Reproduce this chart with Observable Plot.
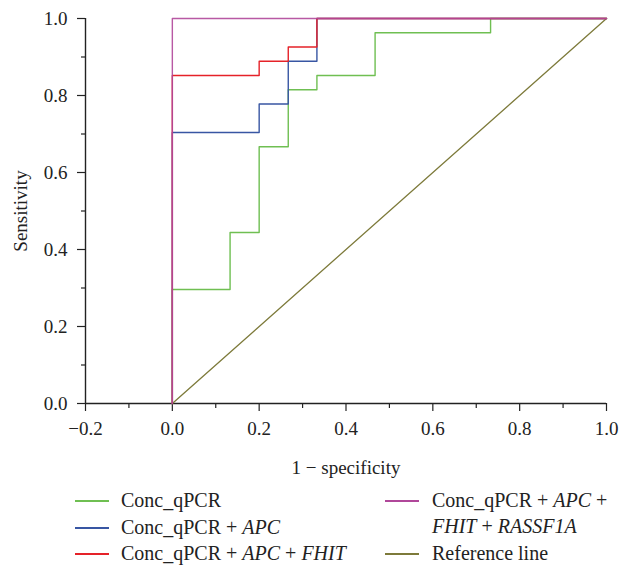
<!DOCTYPE html>
<html>
<head>
<meta charset="utf-8">
<script src="https://cdn.jsdelivr.net/npm/d3@7"></script>
<script src="https://cdn.jsdelivr.net/npm/@observablehq/plot@0.6"></script>
<style>
  html, body { margin: 0; padding: 0; background: #fff; }
  #wrap { position: relative; width: 630px; height: 565px; font-family: "Liberation Serif", "Times New Roman", serif; color: #222; }
  .sw { position: absolute; width: 34px; height: 1.5px; }
  .lt { position: absolute; font-size: 20px; line-height: 20px; white-space: nowrap; }
</style>
</head>
<body>
<div id="wrap"></div>
<script>
// Series names
const seriesNames = ["Conc_qPCR", "Conc_qPCR + APC", "Conc_qPCR + APC + FHIT", "Conc_qPCR + APC + FHIT + RASSF1A", "Reference line"];
const seriesColors = ["#6fbf52", "#3856a3", "#e52229", "#b0479a", "#7d7a3a"];

// ROC step vertices (1 - specificity, sensitivity)
const concFpr = [0, 0, 0.133, 0.2, 0.267, 0.333, 0.467, 0.733, 1];
const concTpr = [0, 0.296, 0.444, 0.667, 0.815, 0.852, 0.963, 1, 1];

const apcFpr = [0, 0, 0.2, 0.267, 0.333, 1];
const apcTpr = [0, 0.704, 0.778, 0.889, 1, 1];

const fhitFpr = [0, 0, 0.2, 0.267, 0.333, 1];
const fhitTpr = [0, 0.852, 0.889, 0.926, 1, 1];

const rassFpr = [0, 0, 1];
const rassTpr = [0, 1, 1];

const refFpr = [0, 1];
const refTpr = [0, 1];

// Axis ticks
const xTicks = [-0.2, 0, 0.2, 0.4, 0.6, 0.8, 1.0];
const xMinorTicks = [-0.1, 0.1, 0.3, 0.5, 0.7, 0.9];
const yTicks = [0, 0.2, 0.4, 0.6, 0.8, 1.0];
const yMinorTicks = [0.1, 0.3, 0.5, 0.7, 0.9];

const toPts = (xs, ys) => xs.map((x, i) => ({x, y: ys[i]}));
const fmt = d3.format(".1f");
const axisColor = "#222";

const chart = Plot.plot({
  width: 630,
  height: 485,
  marginLeft: 85,
  marginRight: 24,
  marginTop: 18,
  marginBottom: 82,
  style: {fontFamily: "'Liberation Serif', 'Times New Roman', serif", fontSize: "19px", color: axisColor, background: "#fff"},
  x: {domain: [-0.2, 1.0]},
  y: {domain: [0, 1.0]},
  marks: [
    Plot.axisX({ticks: xTicks, tickFormat: fmt, tickSize: 8, tickPadding: 10, fontSize: 19,
      label: "1 − specificity", labelAnchor: "center", labelOffset: 70, labelArrow: false, strokeWidth: 1.2}),
    Plot.axisX({ticks: xMinorTicks, tickSize: 5, text: null, label: null, strokeWidth: 1.2}),
    Plot.axisY({ticks: yTicks, tickFormat: fmt, tickSize: 8, tickPadding: 10, fontSize: 19,
      label: "Sensitivity", labelAnchor: "center", labelOffset: 72, labelArrow: false, strokeWidth: 1.2}),
    Plot.axisY({ticks: yMinorTicks, tickSize: 4, text: null, label: null, strokeWidth: 1.2}),
    Plot.ruleY([0], {stroke: axisColor, strokeWidth: 1.4}),
    Plot.ruleX([-0.2], {stroke: axisColor, strokeWidth: 1.4}),
    Plot.line(toPts(refFpr, refTpr), {x: "x", y: "y", stroke: seriesColors[4], strokeWidth: 1.3}),
    Plot.line(toPts(concFpr, concTpr), {x: "x", y: "y", stroke: seriesColors[0], strokeWidth: 1.4, curve: "step-after"}),
    Plot.line(toPts(apcFpr, apcTpr), {x: "x", y: "y", stroke: seriesColors[1], strokeWidth: 1.4, curve: "step-after"}),
    Plot.line(toPts(fhitFpr, fhitTpr), {x: "x", y: "y", stroke: seriesColors[2], strokeWidth: 1.4, curve: "step-after"}),
    Plot.line(toPts(rassFpr, rassTpr), {x: "x", y: "y", stroke: seriesColors[3], strokeWidth: 1.4, strokeOpacity: 0.9, curve: "step-after"})
  ]
});

const wrap = document.getElementById("wrap");
chart.style.position = "absolute";
chart.style.left = "0px";
chart.style.top = "0px";
wrap.appendChild(chart);

// Legend (HTML below the SVG)
const legendItems = [
  {color: seriesColors[0], html: "Conc_qPCR", sx: 75, tx: 121, cy: 501},
  {color: seriesColors[1], html: "Conc_qPCR + <i>APC</i>", sx: 75, tx: 121, cy: 528},
  {color: seriesColors[2], html: "Conc_qPCR + <i>APC</i> + <i>FHIT</i>", sx: 75, tx: 121, cy: 554},
  {color: seriesColors[3], html: "Conc_qPCR + <i>APC</i> +", sx: 385, tx: 432, cy: 501},
  {color: null, html: "<i>FHIT</i> + <i>RASSF1A</i>", sx: 385, tx: 432, cy: 527},
  {color: seriesColors[4], html: "Reference line", sx: 385, tx: 432, cy: 554}
];
for (const it of legendItems) {
  if (it.color) {
    const sw = document.createElement("div");
    sw.className = "sw";
    sw.style.left = it.sx + "px";
    sw.style.top = (it.cy - 1) + "px";
    sw.style.backgroundColor = it.color;
    wrap.appendChild(sw);
  }
  const t = document.createElement("div");
  t.className = "lt";
  t.style.left = it.tx + "px";
  t.style.top = (it.cy - 11) + "px";
  t.innerHTML = it.html;
  wrap.appendChild(t);
}
</script>
</body>
</html>
